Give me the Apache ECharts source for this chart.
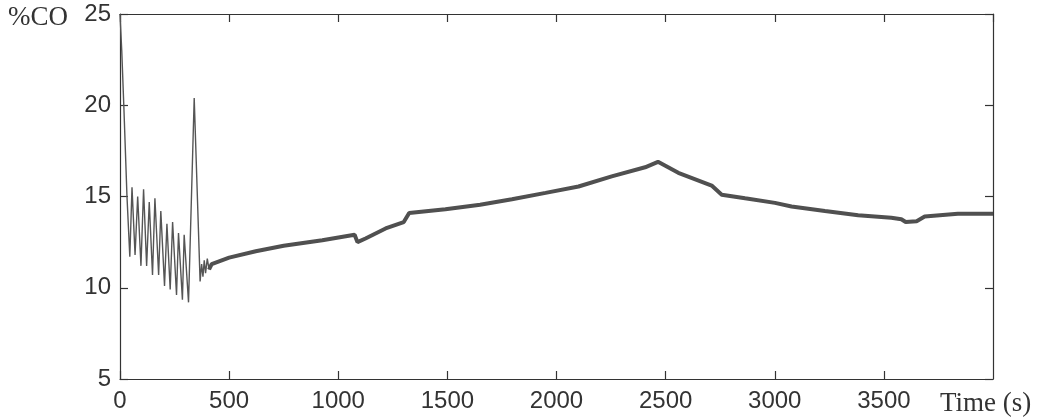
<!DOCTYPE html>
<html>
<head>
<meta charset="utf-8">
<script src="https://cdn.jsdelivr.net/npm/echarts@6/dist/echarts.min.js"></script>
<style>
  html, body { margin: 0; padding: 0; background: #fff; }
  #chart { width: 1046px; height: 420px; }
</style>
</head>
<body>
<div id="chart"></div>
<script>
// start-up oscillation, thin trace (time in s, %CO)
const startTime = [0, 8, 18, 32, 45, 55, 69, 81, 96, 108, 122, 134, 149, 160, 177, 187, 204, 215, 230, 241, 259, 268, 286, 294, 314, 340, 367, 374, 380, 386, 392, 400, 408]
const startCO = [25, 23, 19.8, 15.0, 11.7, 15.5, 11.8, 15.0, 11.2, 15.4, 11.2, 14.7, 10.7, 14.9, 10.7, 14.2, 10.1, 13.5, 9.9, 13.6, 9.6, 13.0, 9.35, 12.9, 9.2, 20.4, 10.35, 11.3, 10.6, 11.5, 10.8, 11.6, 11.0]

// controlled part, centre of the noisy band
const trendTime = [408, 420, 500, 622, 750, 927, 1075, 1088, 1125, 1217, 1300, 1325, 1491, 1650, 1796, 1950, 2101, 2253, 2406, 2465, 2558, 2711, 2757, 2864, 3001, 3077, 3230, 3382, 3534, 3580, 3600, 3650, 3687, 3839, 4000]
const trendCO = [11.0, 11.3, 11.65, 12.0, 12.3, 12.6, 12.9, 12.5, 12.7, 13.25, 13.6, 14.1, 14.3, 14.55, 14.85, 15.2, 15.55, 16.1, 16.6, 16.9, 16.3, 15.6, 15.1, 14.9, 14.65, 14.45, 14.2, 13.97, 13.83, 13.75, 13.6, 13.65, 13.9, 14.05, 14.05]

const xTicks = { min: 0, max: 4000, interval: 500 }
const yTicks = { min: 5, max: 25, interval: 5 }

const axisColor = '#333'
const labelFont = 'Liberation Sans'
const serifFont = 'Liberation Serif'

const pairs = (xs, ys) => xs.map((x, i) => [x, ys[i]])

const boxAxis = (extra) => Object.assign({
  type: 'value',
  axisLine: { show: true, onZero: false, lineStyle: { color: axisColor, width: 1.2 } },
  axisTick: { show: true, inside: true, length: 8, lineStyle: { color: axisColor, width: 1.2 } },
  splitLine: { show: false },
}, extra)

const chart = echarts.init(document.getElementById('chart'))

chart.setOption({
  animation: false,
  backgroundColor: '#fff',
  grid: { left: 120, top: 14, width: 873, height: 365 },
  xAxis: [
    boxAxis({
      ...xTicks,
      position: 'bottom',
      axisLabel: {
        fontFamily: labelFont, fontSize: 24, color: '#333', margin: 10, showMaxLabel: false,
        formatter: (v) => String(v),
      },
    }),
    boxAxis({ ...xTicks, position: 'top', axisLabel: { show: false } }),
  ],
  yAxis: [
    boxAxis({
      ...yTicks,
      position: 'left',
      axisLabel: { fontFamily: labelFont, fontSize: 24, color: '#333', margin: 9, formatter: (v) => String(v) },
    }),
    boxAxis({ ...yTicks, position: 'right', axisLabel: { show: false } }),
  ],
  graphic: [
    {
      type: 'text', x: 8, y: 18,
      style: { text: '%CO', font: `27px "${serifFont}"`, fill: '#333', verticalAlign: 'middle' },
    },
    {
      type: 'text', x: 940, y: 404,
      style: { text: 'Time (s)', font: `27px "${serifFont}"`, fill: '#333', verticalAlign: 'middle' },
    },
  ],
  series: [
    {
      type: 'line',
      data: pairs(startTime, startCO),
      showSymbol: false,
      lineStyle: { color: '#555', width: 1.4 },
    },
    {
      type: 'line',
      data: pairs(trendTime, trendCO),
      showSymbol: false,
      lineStyle: { color: '#505050', width: 4 },
    },
  ],
})
</script>
</body>
</html>
